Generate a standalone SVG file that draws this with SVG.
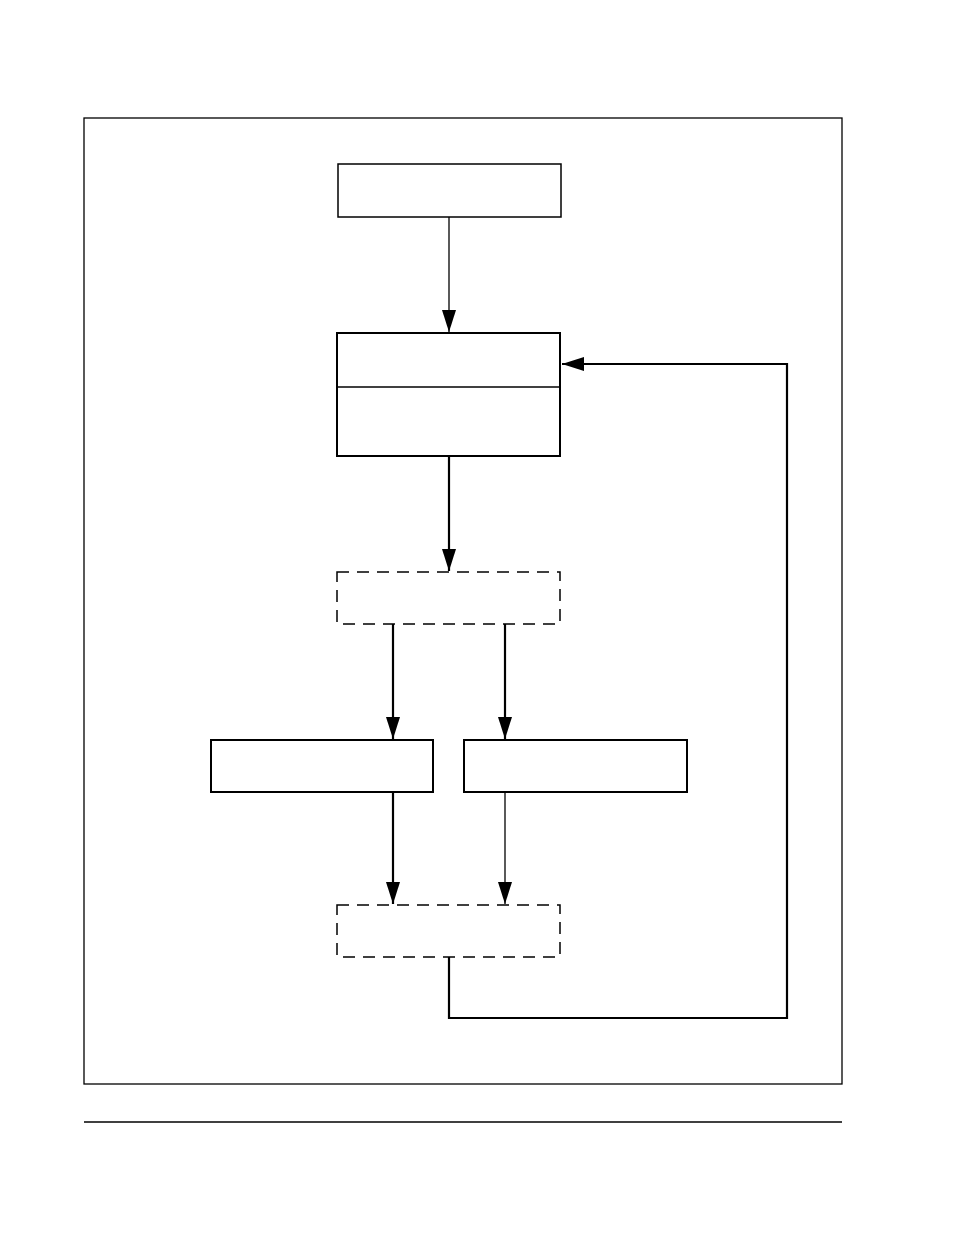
<svg xmlns="http://www.w3.org/2000/svg" width="954" height="1235" viewBox="0 0 954 1235">
<style>
.n{fill:#fff;stroke:#000;stroke-width:1.5}
.t{fill:#fff;stroke:#000;stroke-width:2}
.d{fill:#fff;stroke:#000;stroke-width:1.5;stroke-dasharray:12,8}
.c{fill:none;stroke:#000;stroke-width:1.3}
.k{fill:none;stroke:#000;stroke-width:2.2}
</style>
<defs><marker id="a" viewBox="0 0 10 10" refX="10" refY="5" markerWidth="22" markerHeight="14" preserveAspectRatio="none" markerUnits="userSpaceOnUse" orient="auto"><path d="M0,0L10,5L0,10z" fill="#000"/></marker></defs>
<rect x="84" y="118" width="758" height="966" fill="none" stroke="#000" stroke-width="1.3"/>
<line x1="84" y1="1122" x2="842" y2="1122" stroke="#000" stroke-width="1.3"/>
<g id="n1"><rect class="n" x="338" y="164" width="223" height="53"/></g>
<g id="n2"><rect class="t" x="337" y="333" width="223" height="123"/><line x1="337" y1="387" x2="561" y2="387" stroke="#000" stroke-width="1.3"/></g>
<g id="n3"><rect class="d" x="337" y="572" width="223" height="52"/></g>
<g id="n4"><rect class="t" x="211" y="740" width="222" height="52"/></g>
<g id="n5"><rect class="t" x="464" y="740" width="223" height="52"/></g>
<g id="n6"><rect class="d" x="337" y="905" width="223" height="52"/></g>
<g id="connectors">
<line class="c" x1="449" y1="217" x2="449" y2="332" marker-end="url(#a)"/>
<line class="k" x1="449" y1="456" x2="449" y2="571" marker-end="url(#a)"/>
<line class="k" x1="393" y1="624" x2="393" y2="739" marker-end="url(#a)"/>
<line class="k" x1="505" y1="624" x2="505" y2="739" marker-end="url(#a)"/>
<line class="k" x1="393" y1="792" x2="393" y2="904" marker-end="url(#a)"/>
<line class="c" x1="505" y1="792" x2="505" y2="904" marker-end="url(#a)"/>
<polyline class="k" points="449,957 449,1018 787,1018 787,364 562,364" marker-end="url(#a)"/>
</g>
</svg>
